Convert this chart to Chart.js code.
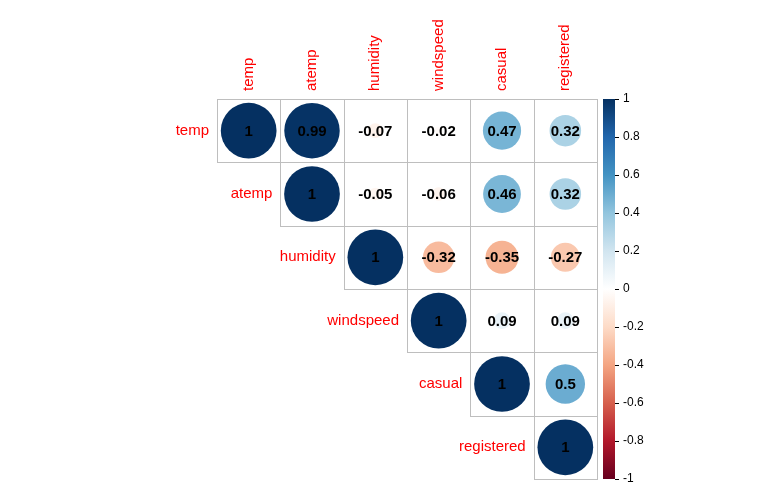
<!DOCTYPE html>
<html>
<head>
<meta charset="utf-8">
<title>Correlation plot</title>
<script src="https://cdn.jsdelivr.net/npm/chart.js@4"></script>
<style>
  html, body { margin: 0; padding: 0; background: #fff; }
  #wrap { width: 767px; height: 491px; }
</style>
</head>
<body>
<div id="wrap"><canvas id="corrChart" width="767" height="491"></canvas></div>
<script>
// variable names, in plot order
const variables = ['temp', 'atemp', 'humidity', 'windspeed', 'casual', 'registered'];

// upper triangle of the correlation matrix, each row starts on the diagonal
const rowTemp = [1, 0.99, -0.07, -0.02, 0.47, 0.32];
const rowAtemp = [1, -0.05, -0.06, 0.46, 0.32];
const rowHumidity = [1, -0.32, -0.35, -0.27];
const rowWindspeed = [1, 0.09, 0.09];
const rowCasual = [1, 0.5];
const rowRegistered = [1];

const colorbarTicks = [-1, -0.8, -0.6, -0.4, -0.2, 0, 0.2, 0.4, 0.6, 0.8, 1];

// RdBu palette (corrplot default), from -1 to 1
const palette = ['#67001F', '#B2182B', '#D6604D', '#F4A582', '#FDDBC7', '#FFFFFF',
                 '#D1E5F0', '#92C5DE', '#4393C3', '#2166AC', '#053061'];

const rows = [rowTemp, rowAtemp, rowHumidity, rowWindspeed, rowCasual, rowRegistered];

function hexToRgb(h) {
  return [parseInt(h.slice(1, 3), 16), parseInt(h.slice(3, 5), 16), parseInt(h.slice(5, 7), 16)];
}

function colorFor(v) {
  const t = (v + 1) / 2 * (palette.length - 1);
  const i = Math.min(Math.floor(t), palette.length - 2);
  const f = t - i;
  const a = hexToRgb(palette[i]);
  const b = hexToRgb(palette[i + 1]);
  const c = a.map((x, k) => Math.round(x + (b[k] - x) * f));
  return 'rgb(' + c.join(',') + ')';
}

const points = [];
rows.forEach((row, i) => {
  row.forEach((v, k) => {
    points.push({ x: i + k + 1, y: i + 1, v: v });
  });
});

const n = variables.length;
const labelFont = '15px "Liberation Sans", Arial, sans-serif';

const canvasWidth = 767;
const pad = { left: 217, right: 170, top: 99, bottom: 12 };
// width of one cell, known before layout so the radii never depend on timing
const cellSize = (canvasWidth - pad.left - pad.right) / n;

function pointAt(ctx) {
  if (ctx.dataIndex === undefined) return null;
  return points[ctx.dataIndex] || null;
}

const corrPlugin = {
  id: 'corrDecor',
  beforeDatasetsDraw(chart) {
    const { ctx, scales: { x, y } } = chart;
    ctx.save();
    ctx.strokeStyle = '#BEBEBE';
    ctx.lineWidth = 1;
    for (let i = 1; i <= n; i++) {
      for (let j = i; j <= n; j++) {
        const x0 = Math.round(x.getPixelForValue(j - 0.5)) + 0.5;
        const x1 = Math.round(x.getPixelForValue(j + 0.5)) + 0.5;
        const y0 = Math.round(y.getPixelForValue(i - 0.5)) + 0.5;
        const y1 = Math.round(y.getPixelForValue(i + 0.5)) + 0.5;
        ctx.strokeRect(x0, y0, x1 - x0, y1 - y0);
      }
    }
    ctx.restore();
  },
  afterDatasetsDraw(chart) {
    const { ctx, chartArea, scales: { x, y } } = chart;
    ctx.save();

    // coefficients
    ctx.fillStyle = '#000';
    ctx.font = 'bold 15px "Liberation Sans", Arial, sans-serif';
    ctx.textAlign = 'center';
    ctx.textBaseline = 'middle';
    points.forEach(p => {
      ctx.fillText(String(p.v), x.getPixelForValue(p.x), y.getPixelForValue(p.y) + 1);
    });

    // column labels (rotated, top)
    ctx.fillStyle = '#FF0000';
    ctx.font = labelFont;
    variables.forEach((name, j) => {
      ctx.save();
      ctx.translate(x.getPixelForValue(j + 1), chartArea.top - 8);
      ctx.rotate(-Math.PI / 2);
      ctx.textAlign = 'left';
      ctx.textBaseline = 'middle';
      ctx.fillText(name, 0, 0);
      ctx.restore();
    });

    // row labels, next to the diagonal cell
    ctx.textAlign = 'right';
    ctx.textBaseline = 'middle';
    variables.forEach((name, i) => {
      ctx.fillText(name, x.getPixelForValue(i + 0.5) - 8, y.getPixelForValue(i + 1));
    });

    // colour legend
    const barLeft = chartArea.right + 6;
    const barWidth = 12;
    const top = chartArea.top;
    const bottom = chartArea.bottom;
    const grad = ctx.createLinearGradient(0, bottom, 0, top);
    palette.forEach((c, k) => grad.addColorStop(k / (palette.length - 1), c));
    ctx.fillStyle = grad;
    ctx.fillRect(barLeft, top, barWidth, bottom - top);

    ctx.strokeStyle = '#000';
    ctx.fillStyle = '#000';
    ctx.lineWidth = 1;
    ctx.font = '12px "Liberation Sans", Arial, sans-serif';
    ctx.textAlign = 'left';
    ctx.textBaseline = 'middle';
    colorbarTicks.forEach(t => {
      const py = bottom - (t + 1) / 2 * (bottom - top);
      const yy = Math.round(py) + 0.5;
      ctx.beginPath();
      ctx.moveTo(barLeft + barWidth, yy);
      ctx.lineTo(barLeft + barWidth + 4, yy);
      ctx.stroke();
      ctx.fillText(String(t), barLeft + barWidth + 8, py);
    });

    ctx.restore();
  }
};

new Chart(document.getElementById('corrChart').getContext('2d'), {
  type: 'bubble',
  data: {
    datasets: [{
      data: points,
      backgroundColor: ctx => {
        const p = pointAt(ctx);
        return p ? colorFor(p.v) : '#fff';
      },
      borderWidth: 0,
      hoverBorderWidth: 0,
      radius: ctx => {
        const p = pointAt(ctx);
        return p ? cellSize * 0.44 * Math.sqrt(Math.abs(p.v)) : 0;
      },
      hoverRadius: 0
    }]
  },
  options: {
    responsive: false,
    animation: false,
    devicePixelRatio: 1,
    layout: {
      autoPadding: false,
      padding: pad
    },
    scales: {
      x: { type: 'linear', min: 0.5, max: n + 0.5, display: false },
      y: { type: 'linear', min: 0.5, max: n + 0.5, reverse: true, display: false }
    },
    plugins: {
      legend: { display: false },
      tooltip: { enabled: false }
    }
  },
  plugins: [corrPlugin]
});
</script>
</body>
</html>
